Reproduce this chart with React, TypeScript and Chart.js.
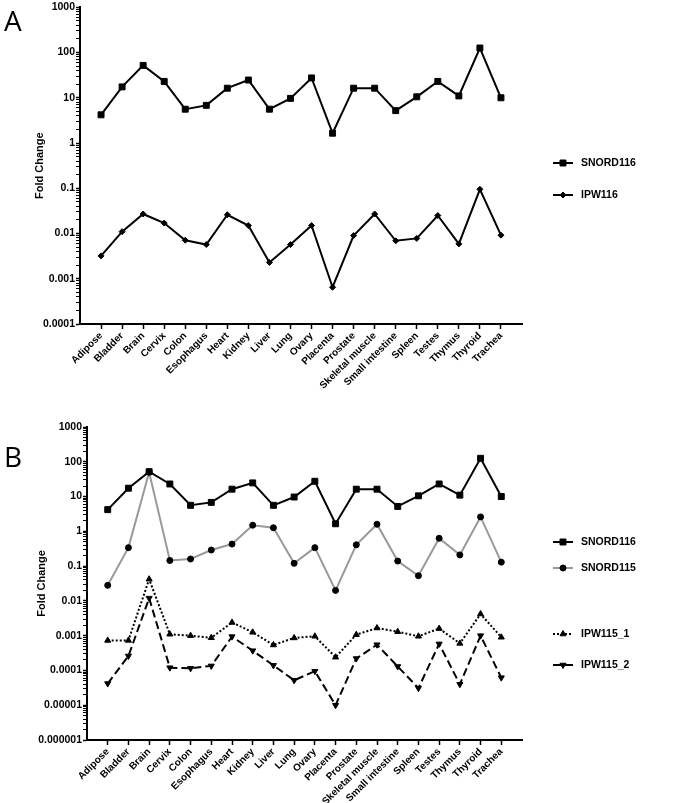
import React, { useEffect, useRef } from 'react';
import { Chart, registerables } from 'chart.js';
import { drawPoint } from 'chart.js/helpers';

Chart.register(...registerables);

const categories = ['Adipose', 'Bladder', 'Brain', 'Cervix', 'Colon', 'Esophagus', 'Heart', 'Kidney', 'Liver', 'Lung', 'Ovary', 'Placenta', 'Prostate', 'Skeletal muscle', 'Small intestine', 'Spleen', 'Testes', 'Thymus', 'Thyroid', 'Trachea'];

const snord116 = [4.2, 17.4, 52, 23, 5.6, 6.8, 16.3, 24.7, 5.6, 9.7, 27.5, 1.65, 16.3, 16.3, 5.2, 10.5, 23, 11, 126, 10];
const ipw116 = [0.0032, 0.011, 0.027, 0.017, 0.0071, 0.0057, 0.026, 0.015, 0.0023, 0.0057, 0.015, 0.00065, 0.009, 0.027, 0.0069, 0.0078, 0.025, 0.0059, 0.095, 0.0092];
const snord115 = [0.028, 0.34, 50, 0.145, 0.16, 0.29, 0.43, 1.5, 1.27, 0.12, 0.34, 0.02, 0.41, 1.6, 0.14, 0.053, 0.63, 0.21, 2.6, 0.13];
const ipw115_1 = [0.00073, 0.00073, 0.042, 0.0011, 0.001, 0.00087, 0.0024, 0.00125, 0.00054, 0.00086, 0.00096, 0.00024, 0.00107, 0.00166, 0.0013, 0.00096, 0.0016, 0.0006, 0.0042, 0.0009];
const ipw115_2 = [0.000042, 0.00026, 0.012, 0.00012, 0.000115, 0.000135, 0.00094, 0.00037, 0.00014, 0.000052, 0.000095, 0.00001, 0.00022, 0.00055, 0.00013, 0.000031, 0.00058, 0.00004, 0.001, 0.000062];

const yTickLabelsA = ['0.0001', '0.001', '0.01', '0.1', '1', '10', '100', '1000'];
const yTickLabelsB = ['0.000001', '0.00001', '0.0001', '0.001', '0.01', '0.1', '1', '10', '100', '1000'];

const FONT = "'Liberation Sans', Arial, sans-serif";

type SeriesStyle = {
  label: string;
  values: number[];
  color: string;
  pointStyle: string;
  radius: number;
  rotation?: number;
  dash?: number[];
};

const toXY = (vals: number[]) => vals.map((v, i) => ({ x: i, y: v }));

const sideLegend = {
  id: 'sideLegend',
  afterDraw(chart: any, _args: any, opts: any) {
    const { ctx } = chart;
    const items = opts.items || [];
    items.forEach((it: any) => {
      const ds = chart.data.datasets[it.index];
      const x0 = opts.x;
      const y = it.y;
      ctx.save();
      ctx.strokeStyle = ds.borderColor;
      ctx.lineWidth = ds.borderWidth;
      ctx.setLineDash(ds.borderDash || []);
      ctx.beginPath();
      ctx.moveTo(x0, y);
      ctx.lineTo(x0 + opts.lineLen, y);
      ctx.stroke();
      ctx.setLineDash([]);
      ctx.fillStyle = ds.pointBackgroundColor;
      ctx.strokeStyle = ds.pointBorderColor;
      ctx.lineWidth = 1;
      drawPoint(ctx, { radius: ds.pointRadius, pointStyle: ds.pointStyle, rotation: ds.pointRotation || 0, borderWidth: 1 }, x0 + opts.lineLen / 2, y);
      ctx.fillStyle = '#000';
      ctx.font = `bold 10.5px ${FONT}`;
      ctx.textBaseline = 'middle';
      ctx.textAlign = 'left';
      ctx.fillText(ds.label, x0 + opts.lineLen + 8, y + 0.5);
      ctx.restore();
    });
  },
};

function makeChart(canvas: HTMLCanvasElement, spec: any) {
  const minExp = spec.minExp;
  const maxExp = spec.maxExp;
  const datasets = spec.series.map((s: SeriesStyle) => ({
    label: s.label,
    data: toXY(s.values),
    borderColor: s.color,
    borderWidth: 2,
    borderDash: s.dash || [],
    tension: 0,
    pointStyle: s.pointStyle,
    pointRadius: s.radius,
    pointRotation: s.rotation || 0,
    pointBackgroundColor: '#000',
    pointBorderColor: '#000',
    pointBorderWidth: 1,
    fill: false,
  }));
  return new Chart(canvas, {
    type: 'line',
    data: { datasets },
    plugins: [sideLegend],
    options: {
      animation: false,
      responsive: false,
      events: [],
      layout: { padding: spec.padding },
      plugins: {
        legend: { display: false },
        tooltip: { enabled: false },
        sideLegend: spec.legend,
      } as any,
      scales: {
        x: {
          type: 'linear',
          min: -1,
          max: categories.length,
          afterBuildTicks: (scale: any) => {
            scale.ticks = categories.map((_, i) => ({ value: i }));
          },
          afterFit: (scale: any) => {
            scale.height = spec.xHeight;
          },
          ticks: {
            autoSkip: false,
            minRotation: 45,
            maxRotation: 45,
            padding: 1,
            color: '#000',
            font: { family: FONT, size: 10, weight: 'bold' },
            callback: (v: any) => categories[v] ?? '',
          },
          grid: { display: true, drawOnChartArea: false, drawTicks: true, tickLength: 5, color: '#000', tickWidth: 1.5 },
          border: { display: true, color: '#000', width: 2 },
        },
        y: {
          type: 'logarithmic',
          min: Math.pow(10, minExp),
          max: Math.pow(10, maxExp),
          afterBuildTicks: (scale: any) => {
            const ticks: any[] = [];
            for (let e = minExp; e <= maxExp; e++) {
              const base = Math.pow(10, e);
              ticks.push({ value: base, major: true });
              if (e < maxExp) {
                for (let m = 2; m <= 9; m++) ticks.push({ value: m * base, major: false });
              }
            }
            scale.ticks = ticks;
          },
          afterFit: (scale: any) => {
            scale.width = spec.yWidth;
          },
          ticks: {
            autoSkip: false,
            padding: 1,
            color: '#000',
            font: { family: FONT, size: 10.5, weight: 'bold' },
            callback: (v: any) => {
              const e = Math.log10(v);
              if (Math.abs(e - Math.round(e)) > 1e-6) return '';
              return spec.yLabels[Math.round(e) - minExp] ?? '';
            },
          },
          grid: {
            display: true,
            drawOnChartArea: false,
            drawTicks: true,
            tickLength: 4,
            color: '#000',
            tickWidth: (c: any) => (c.tick && c.tick.major ? 1.5 : 1),
          },
          border: { display: true, color: '#000', width: 2 },
          title: {
            display: true,
            text: 'Fold Change',
            color: '#000',
            font: { family: FONT, size: 11, weight: 'bold' },
            padding: { top: spec.titlePad, bottom: 0 },
          },
        },
      },
    } as any,
  });
}

function Panel({ spec, top, height }: { spec: any; top: number; height: number }) {
  const ref = useRef<HTMLCanvasElement | null>(null);
  useEffect(() => {
    if (!ref.current) return;
    const chart = makeChart(ref.current, spec);
    return () => chart.destroy();
  }, []);
  return (
    <canvas
      ref={ref}
      width={685}
      height={height}
      style={{ position: 'absolute', left: 0, top, width: 685, height }}
    />
  );
}

const specA = {
  minExp: -4,
  maxExp: 3,
  yLabels: yTickLabelsA,
  padding: { top: 7, right: 163, left: 0, bottom: 0 },
  yWidth: 80,
  xHeight: 76,
  titlePad: 33,
  series: [
    { label: 'SNORD116', values: snord116, color: '#000', pointStyle: 'rect', radius: 4.2 },
    { label: 'IPW116', values: ipw116, color: '#000', pointStyle: 'rectRot', radius: 3 },
  ],
  legend: { x: 553, lineLen: 20, items: [{ index: 0, y: 163 }, { index: 1, y: 195 }] },
};

const specB = {
  minExp: -6,
  maxExp: 3,
  yLabels: yTickLabelsB,
  padding: { top: 27, right: 163, left: 0, bottom: 0 },
  yWidth: 87,
  xHeight: 63,
  titlePad: 35,
  series: [
    { label: 'SNORD116', values: snord116, color: '#000', pointStyle: 'rect', radius: 4.2 },
    { label: 'SNORD115', values: snord115, color: '#999', pointStyle: 'circle', radius: 3 },
    { label: 'IPW115_1', values: ipw115_1, color: '#000', pointStyle: 'triangle', radius: 3.5, dash: [2, 2] },
    { label: 'IPW115_2', values: ipw115_2, color: '#000', pointStyle: 'triangle', radius: 3.5, rotation: 180, dash: [8, 4] },
  ],
  legend: {
    x: 553,
    lineLen: 20,
    items: [
      { index: 0, y: 142 },
      { index: 1, y: 168 },
      { index: 2, y: 234 },
      { index: 3, y: 265 },
    ],
  },
};

const letterStyle: React.CSSProperties = {
  position: 'absolute',
  fontFamily: "'Open Sans', 'Noto Sans', sans-serif",
  fontSize: 28,
  fontWeight: 400,
  color: '#000',
  lineHeight: 1,
};

export default function App() {
  return (
    <div style={{ position: 'absolute', left: 0, top: 0, width: 685, height: 803, background: '#fff' }}>
      <Panel spec={specA} top={0} height={400} />
      <Panel spec={specB} top={400} height={403} />
      <div style={{ ...letterStyle, left: 4, top: 6 }}>A</div>
      <div style={{ ...letterStyle, left: 4, top: 442 }}>B</div>
    </div>
  );
}
